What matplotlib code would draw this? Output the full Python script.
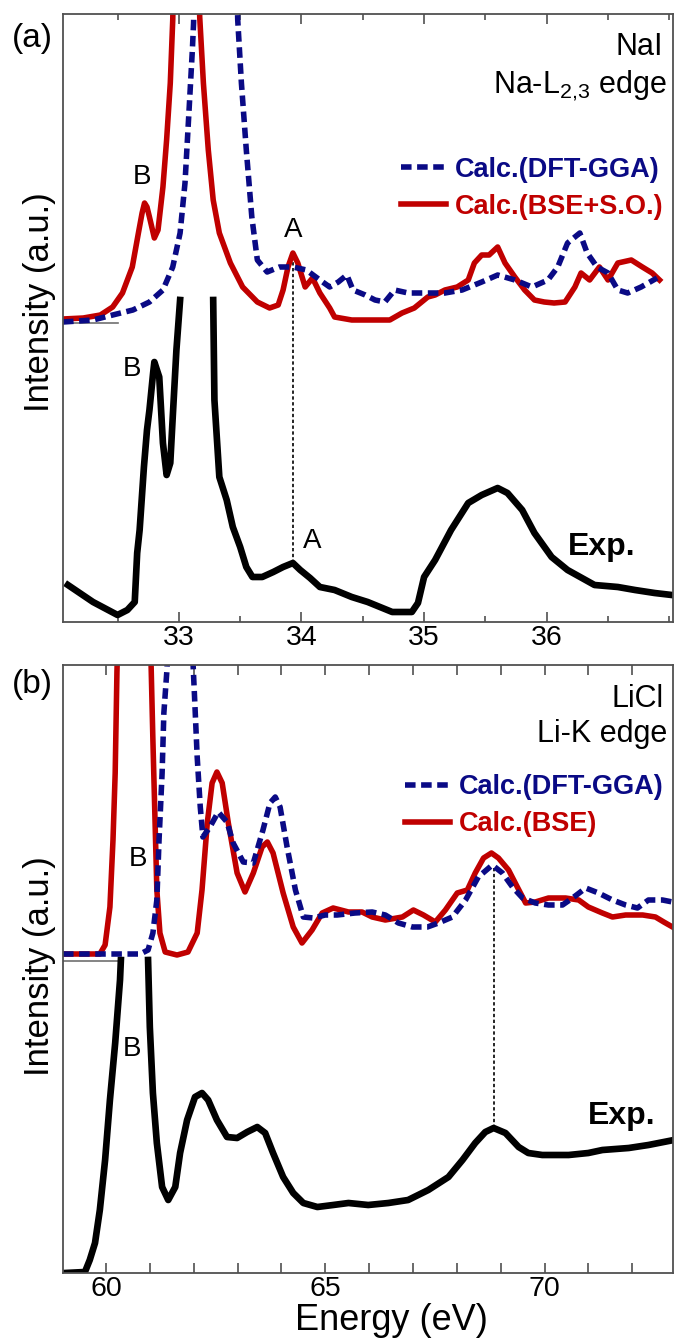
import numpy as np
import matplotlib
matplotlib.use("Agg")
import matplotlib.pyplot as plt
from matplotlib.ticker import MultipleLocator, FixedLocator

plt.rcParams['font.family'] = ['Liberation Sans', 'DejaVu Sans']
plt.rcParams['mathtext.fontset'] = 'custom'
plt.rcParams['mathtext.rm'] = 'Liberation Sans'
plt.rcParams['mathtext.it'] = 'Liberation Sans:italic'
plt.rcParams['mathtext.bf'] = 'Liberation Sans:bold'

nan = np.nan

# ---------------- Panel (a): NaI, Na-L2,3 edge ----------------
a_ticks = [33, 34, 35, 36]

a_exp_E = [32.095, 32.30, 32.50, 32.58, 32.64, 32.66, 32.68, 32.715, 32.74, 32.76, 32.79, 32.80,
           32.84, 32.87, 32.90, 32.93, 32.95, 32.98, 33.01, nan,
           33.28, 33.29, 33.33, 33.39, 33.44, 33.50, 33.55, 33.60, 33.68, 33.77, 33.85, 33.93,
           33.99, 34.07, 34.15, 34.27, 34.41, 34.54, 34.74, 34.90, 34.95, 35.00, 35.09, 35.22,
           35.36, 35.47, 35.60, 35.68, 35.80, 35.90, 36.04, 36.17, 36.39, 36.58, 36.72, 36.88, 37.02]
a_exp_I = [0.37, 0.20, 0.07, 0.12, 0.20, 0.69, 0.92, 1.55, 1.92, 2.12, 2.49, 2.60,
           2.45, 1.79, 1.47, 1.59, 2.05, 2.72, 3.22, nan,
           3.22, 2.22, 1.45, 1.22, 0.95, 0.75, 0.55, 0.45, 0.45, 0.50, 0.55, 0.59,
           0.52, 0.44, 0.35, 0.32, 0.25, 0.20, 0.10, 0.10, 0.19, 0.45, 0.62, 0.92,
           1.19, 1.27, 1.34, 1.29, 1.12, 0.89, 0.65, 0.52, 0.37, 0.35, 0.32, 0.29, 0.27]

a_bse_E = [32.055, 32.22, 32.36, 32.46, 32.54, 32.62, 32.67, 32.70, 32.72, 32.74, 32.76, 32.80, 32.83,
           32.87, 32.90, 32.93, 32.95, 32.955, 33.06, 33.165, 33.17, 33.20, 33.24, 33.28, 33.33,
           33.42, 33.52, 33.64, 33.74, 33.81, 33.85, 33.89, 33.93, 33.97, 34.03, 34.09, 34.15,
           34.23, 34.27, 34.41, 34.54, 34.72, 34.82, 34.92, 35.03, 35.09, 35.17, 35.27, 35.36,
           35.41, 35.47, 35.53, 35.60, 35.66, 35.74, 35.82, 35.90, 35.98, 36.06, 36.15, 36.23,
           36.28, 36.35, 36.43, 36.50, 36.58, 36.69, 36.78, 36.86, 36.92]
a_bse_I = [3.03, 3.04, 3.07, 3.15, 3.29, 3.55, 3.89, 4.09, 4.19, 4.15, 4.05, 3.84, 3.92,
           4.35, 4.82, 5.39, 6.02, 6.30, 9.00, 6.30, 6.05, 5.39, 4.72, 4.22, 3.89,
           3.59, 3.35, 3.20, 3.14, 3.17, 3.32, 3.55, 3.69, 3.59, 3.35, 3.44, 3.29,
           3.14, 3.05, 3.02, 3.02, 3.02, 3.09, 3.14, 3.25, 3.27, 3.32, 3.35, 3.42,
           3.59, 3.67, 3.67, 3.75, 3.59, 3.45, 3.32, 3.22, 3.20, 3.19, 3.20, 3.35,
           3.49, 3.42, 3.55, 3.42, 3.59, 3.62, 3.55, 3.49, 3.42]

a_gga_E = [32.055, 32.30, 32.46, 32.625, 32.76, 32.87, 32.95, 33.01, 33.05, 33.08, 33.11, 33.12,
           33.125, 33.30, 33.475, 33.48, 33.51, 33.55, 33.595, 33.64, 33.72, 33.82, 33.93, 34.04,
           34.15, 34.23, 34.30, 34.37, 34.42, 34.52, 34.60, 34.68, 34.76, 34.87, 34.98, 35.17,
           35.31, 35.47, 35.60, 35.74, 35.88, 36.01, 36.09, 36.17, 36.27, 36.33, 36.41, 36.50,
           36.58, 36.66, 36.77, 36.90]
a_gga_I = [3.00, 3.02, 3.07, 3.12, 3.20, 3.32, 3.55, 3.89, 4.39, 5.05, 5.72, 5.99,
           6.30, 9.00, 6.30, 6.02, 5.39, 4.72, 4.05, 3.62, 3.50, 3.55, 3.55, 3.52,
           3.42, 3.35, 3.40, 3.47, 3.32, 3.27, 3.22, 3.20, 3.32, 3.29, 3.29, 3.29,
           3.32, 3.40, 3.47, 3.42, 3.35, 3.42, 3.55, 3.79, 3.89, 3.69, 3.55, 3.49,
           3.32, 3.29, 3.35, 3.44]

a_base_E = [32.055, 32.50]
a_base_I = [2.99, 2.99]
a_mark_E = 33.93
a_mark_I = (0.59, 3.69)

# ---------------- Panel (b): LiCl, Li-K edge ----------------
b_ticks = [60, 65, 70]

b_exp_E = [59.06, 59.52, 59.63, 59.75, 59.86, 59.98, 60.09, 60.21, 60.32, 60.34, nan,
           60.96, 61.00, 61.07, 61.16, 61.28, 61.42, 61.58, 61.69, 61.85, 62.03, 62.19, 62.33,
           62.53, 62.76, 62.99, 63.22, 63.45, 63.63, 63.81, 64.04, 64.27, 64.50, 64.82, 65.18,
           65.53, 65.98, 66.44, 66.89, 67.35, 67.81, 68.13, 68.42, 68.65, 68.84, 69.11, 69.41,
           69.63, 69.95, 70.55, 71.00, 71.32, 71.92, 72.37, 72.95]
b_exp_I = [0.00, 0.01, 0.13, 0.30, 0.63, 1.13, 1.73, 2.30, 2.93, 3.13, nan,
           3.13, 2.46, 1.80, 1.30, 0.86, 0.73, 0.86, 1.20, 1.53, 1.76, 1.80, 1.73,
           1.53, 1.36, 1.35, 1.41, 1.46, 1.40, 1.20, 0.96, 0.80, 0.70, 0.66, 0.68,
           0.70, 0.68, 0.70, 0.73, 0.83, 0.96, 1.13, 1.30, 1.41, 1.45, 1.40, 1.26,
           1.20, 1.18, 1.18, 1.20, 1.23, 1.25, 1.28, 1.33]

b_bse_E = [59.02, 59.86, 59.98, 60.09, 60.16, 60.21, 60.25, 60.27, 60.64, 61.01, 61.03, 61.07,
           61.12, 61.16, 61.23, 61.35, 61.62, 61.87, 62.08, 62.19, 62.31, 62.42, 62.53, 62.65,
           62.79, 62.99, 63.17, 63.36, 63.56, 63.68, 63.81, 64.04, 64.27, 64.47, 64.70, 64.93,
           65.18, 65.53, 65.84, 66.07, 66.37, 66.76, 67.01, 67.24, 67.51, 67.74, 68.01, 68.24,
           68.42, 68.61, 68.79, 68.95, 69.18, 69.38, 69.57, 69.79, 70.09, 70.48, 70.78, 71.00,
           71.32, 71.55, 71.85, 72.24, 72.53, 72.72, 72.92]
b_bse_I = [3.19, 3.19, 3.28, 3.66, 4.33, 5.00, 6.01, 6.33, 9.00, 6.33, 6.06, 5.33,
           4.50, 3.83, 3.40, 3.21, 3.18, 3.21, 3.40, 3.83, 4.50, 4.90, 5.01, 4.90,
           4.50, 4.00, 3.81, 4.00, 4.26, 4.31, 4.20, 3.80, 3.46, 3.30, 3.43, 3.60,
           3.65, 3.61, 3.61, 3.56, 3.53, 3.56, 3.63, 3.58, 3.51, 3.63, 3.80, 3.83,
           4.00, 4.15, 4.20, 4.15, 4.03, 3.86, 3.70, 3.71, 3.75, 3.75, 3.73, 3.66,
           3.60, 3.56, 3.58, 3.58, 3.56, 3.51, 3.46]

b_gga_E = [59.02, 60.78, 60.96, 61.07, 61.16, 61.21, 61.28, 61.32, 61.39, 61.42, 61.69, 61.96,
           61.99, 62.03, 62.08, 62.15, 62.21, 62.37, 62.56, 62.76, 62.90, 63.13, 63.36, 63.58,
           63.74, 63.86, 63.97, 64.13, 64.32, 64.50, 64.73, 65.00, 65.27, 65.68, 66.07, 66.37,
           66.67, 66.99, 67.33, 67.58, 67.90, 68.20, 68.49, 68.81, 69.04, 69.27, 69.50, 69.79,
           70.09, 70.41, 70.64, 70.94, 71.23, 71.55, 71.85, 72.12, 72.37, 72.69, 72.92]
b_gga_I = [3.19, 3.19, 3.23, 3.40, 3.73, 4.33, 5.00, 5.60, 6.03, 6.33, 9.00, 6.33,
           6.05, 5.66, 5.16, 4.66, 4.36, 4.46, 4.61, 4.51, 4.30, 4.11, 4.10, 4.43,
           4.70, 4.76, 4.66, 4.26, 3.83, 3.56, 3.55, 3.58, 3.58, 3.60, 3.61, 3.58,
           3.50, 3.46, 3.46, 3.50, 3.56, 3.73, 3.96, 4.08, 4.00, 3.86, 3.75, 3.70,
           3.68, 3.68, 3.75, 3.85, 3.80, 3.73, 3.68, 3.65, 3.73, 3.73, 3.71]

b_base_E = [59.02, 60.27]
b_base_I = [3.12, 3.12]
b_mark_E = 68.84
b_mark_I = (1.45, 4.06)

RED = '#C00000'
BLUE = '#0A0A85'
SPINE = '#505050'
LW_EXP = 4.8
LW_CALC = 4.0

fig = plt.figure(figsize=(6.75, 13.38), dpi=100)
W, H = 675.0, 1338.0
ax_a = fig.add_axes([63 / W, 1 - 622 / H, 610 / W, 608 / H])
ax_b = fig.add_axes([63 / W, 1 - 1273 / H, 610 / W, 608 / H])


def style(ax, xlim, majors, minor, maj_len, min_len):
    ax.set_xlim(*xlim)
    ax.set_ylim(0, 6.08)
    ax.xaxis.set_major_locator(FixedLocator(majors))
    ax.xaxis.set_minor_locator(MultipleLocator(minor))
    ax.set_yticks([])
    ax.tick_params(axis='x', which='both', direction='in', top=True, bottom=True,
                   width=1.2, color=SPINE, labelsize=20.5, pad=2.5)
    ax.tick_params(axis='x', which='major', length=maj_len)
    ax.tick_params(axis='x', which='minor', length=min_len)
    for s in ax.spines.values():
        s.set_color(SPINE)
        s.set_linewidth(1.3)
    ax.set_ylabel('Intensity (a.u.)', fontsize=25)


# ----- panel (a)
style(ax_a, (32.055, 37.03), a_ticks, 0.5, 7, 4)
ax_a.yaxis.set_label_coords(-0.012, 0.526)
ax_a.plot(a_base_E, a_base_I, color='#707070', lw=1.2)
ax_a.plot([a_mark_E, a_mark_E], a_mark_I, color='black', lw=1.2, ls=(0, (2, 1.5)))
ax_a.plot(a_exp_E, a_exp_I, color='black', lw=LW_EXP, solid_joinstyle='round')
la_r, = ax_a.plot(a_bse_E, a_bse_I, color=RED, lw=LW_CALC, solid_joinstyle='round',
                  label='Calc.(BSE+S.O.)')
la_b, = ax_a.plot(a_gga_E, a_gga_I, color=BLUE, lw=LW_CALC, ls=(0, (1.9, 1.0)),
                  dash_capstyle='butt', label='Calc.(DFT-GGA)')
ax_a.legend(handles=[la_b, la_r], loc='upper right', bbox_to_anchor=(0.985, 0.765),
            frameon=False, borderpad=0, borderaxespad=0, handlelength=1.65,
            handletextpad=0.35, labelspacing=0.4, labelcolor='linecolor',
            prop={'weight': 'bold', 'size': 19.5})
ax_a.text(0.984, 0.933, 'NaI', transform=ax_a.transAxes, ha='right', va='baseline', fontsize=22)
ax_a.text(0.990, 0.870, r'Na-L$_{\mathrm{2{,}3}}$ edge', transform=ax_a.transAxes,
          ha='right', va='baseline', fontsize=22)
ax_a.text(32.70, 4.45, 'B', ha='center', va='center', fontsize=20)
ax_a.text(32.62, 2.53, 'B', ha='center', va='center', fontsize=20)
ax_a.text(33.93, 3.92, 'A', ha='center', va='center', fontsize=20)
ax_a.text(34.09, 0.81, 'A', ha='center', va='center', fontsize=20)
ax_a.text(36.17, 0.75, 'Exp.', ha='left', va='center', fontsize=23, fontweight='bold')

# ----- panel (b)
style(ax_b, (59.02, 72.93), b_ticks, 1, 7, 7)
ax_b.yaxis.set_label_coords(-0.012, 0.505)
ax_b.set_xlabel('Energy (eV)', fontsize=26)
ax_b.xaxis.set_label_coords(0.539, -0.049)
ax_b.plot(b_base_E, b_base_I, color='#707070', lw=1.2)
ax_b.plot([b_mark_E, b_mark_E], b_mark_I, color='black', lw=1.2, ls=(0, (2, 1.5)))
ax_b.plot(b_exp_E, b_exp_I, color='black', lw=LW_EXP, solid_joinstyle='round')
lb_r, = ax_b.plot(b_bse_E, b_bse_I, color=RED, lw=LW_CALC, solid_joinstyle='round',
                  label='Calc.(BSE)')
lb_b, = ax_b.plot(b_gga_E, b_gga_I, color=BLUE, lw=LW_CALC, ls=(0, (1.9, 1.0)),
                  dash_capstyle='butt', label='Calc.(DFT-GGA)')
ax_b.legend(handles=[lb_b, lb_r], loc='upper right', bbox_to_anchor=(0.985, 0.82),
            frameon=False, borderpad=0, borderaxespad=0, handlelength=1.65,
            handletextpad=0.35, labelspacing=0.4, labelcolor='linecolor',
            prop={'weight': 'bold', 'size': 19.5})
ax_b.text(0.984, 0.931, 'LiCl', transform=ax_b.transAxes, ha='right', va='baseline', fontsize=22)
ax_b.text(0.990, 0.873, 'Li-K edge', transform=ax_b.transAxes, ha='right', va='baseline', fontsize=22)
ax_b.text(60.73, 4.14, 'B', ha='center', va='center', fontsize=20)
ax_b.text(60.59, 2.24, 'B', ha='center', va='center', fontsize=20)
ax_b.text(70.98, 1.57, 'Exp.', ha='left', va='center', fontsize=23, fontweight='bold')

fig.text(32 / W, 1 - 38 / H, '(a)', ha='center', va='center', fontsize=24)
fig.text(32 / W, 1 - 684 / H, '(b)', ha='center', va='center', fontsize=24)

fig.savefig('out.png', dpi=100)
